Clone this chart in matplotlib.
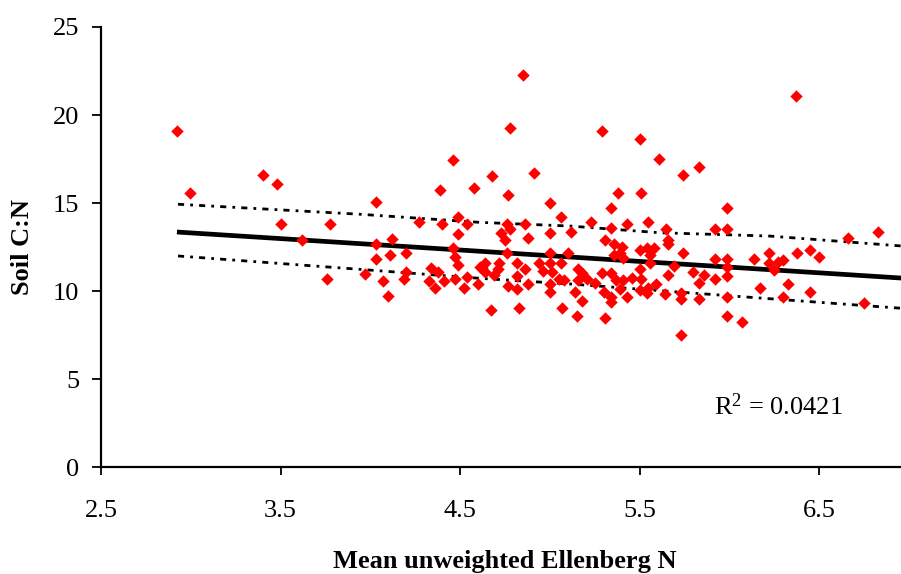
import matplotlib
matplotlib.use("Agg")
import matplotlib.pyplot as plt
import numpy as np

plt.rcParams['font.family'] = ['Liberation Serif', 'DejaVu Serif']
plt.rcParams['mathtext.fontset'] = 'custom'
plt.rcParams['mathtext.rm'] = 'Liberation Serif'
plt.rcParams['mathtext.it'] = 'Liberation Serif:italic'
plt.rcParams['mathtext.bf'] = 'Liberation Serif:bold'
plt.rcParams['mathtext.default'] = 'regular'

# ---- data ----
ellenberg_n = [
    2.923, 2.996, 3.40, 3.48, 3.50, 3.776, 3.62, 3.76, 4.03, 4.12,
    4.11, 4.03, 4.03, 3.97, 4.07, 4.10, 4.20, 4.20, 4.19, 4.27,
    4.34, 4.33, 4.36, 4.38, 4.41, 4.39, 4.40, 4.46, 4.49, 4.49,
    4.46, 4.47, 4.49, 4.47, 4.52, 4.54, 4.54, 4.58, 4.60, 4.61,
    4.85, 4.78, 4.68, 4.91, 4.77, 5.00, 5.06, 4.76, 4.78, 4.73,
    4.75, 4.86, 4.88, 5.00, 4.76, 5.00, 5.10, 4.64, 4.62, 4.64,
    4.72, 4.71, 4.69, 4.82, 4.86, 4.82, 4.77, 4.82, 4.88, 4.94,
    4.96, 5.00, 5.01, 5.06, 5.05, 5.08, 5.00, 5.00, 4.67, 4.83,
    5.07, 5.29, 5.50, 5.61, 5.38, 5.51, 5.34, 5.23, 5.12, 5.34,
    5.43, 5.55, 5.31, 5.36, 5.40, 5.39, 5.41, 5.36, 5.50, 5.54,
    5.56, 5.58, 5.16, 5.18, 5.21, 5.16, 5.14, 5.29, 5.34, 5.25,
    5.30, 5.34, 5.34, 5.37, 5.41, 5.39, 5.43, 5.46, 5.50, 5.51,
    5.50, 5.54, 5.55, 5.59, 5.56, 5.15, 5.31, 5.18, 5.74, 5.83,
    5.65, 5.66, 5.66, 5.74, 5.69, 5.80, 5.86, 5.66, 5.64, 5.73,
    5.73, 5.83, 5.83, 5.92, 5.92, 5.92, 5.99, 5.99, 5.99, 5.99,
    5.99, 5.99, 5.99, 6.07, 5.73, 6.14, 6.17, 6.22, 6.22, 6.37,
    6.27, 6.30, 6.25, 6.38, 6.45, 6.50, 6.33, 6.30, 6.45, 6.66,
    6.83, 6.75,
]
soil_cn = [
    19.09, 15.57, 16.6, 16.1, 13.8, 13.8, 12.9, 10.7, 15.05, 12.95,
    12.05, 12.67, 11.8, 10.97, 10.57, 9.72, 12.16, 11.1, 10.7, 13.9,
    11.3, 10.57, 10.17, 11.08, 10.57, 15.74, 13.8, 17.44, 14.2, 13.24,
    12.44, 11.93, 11.48, 10.68, 10.17, 13.8, 10.8, 15.85, 10.4, 11.36,
    22.27, 19.26, 16.53, 16.7, 15.45, 15.0, 14.2, 13.8, 13.5, 13.3,
    12.9, 13.8, 13.0, 13.3, 12.16, 12.16, 12.16, 11.6, 11.3, 11.08,
    11.6, 11.25, 10.9, 11.6, 11.25, 10.85, 10.28, 10.1, 10.4, 11.6,
    11.14, 11.6, 11.08, 11.6, 10.68, 10.6, 10.4, 9.94, 8.92, 9.03,
    9.03, 19.09, 18.64, 17.5, 15.57, 15.57, 14.7, 13.9, 13.35, 13.58,
    13.8, 13.9, 12.9, 12.67, 12.5, 12.16, 11.88, 12.05, 12.33, 12.44,
    12.05, 12.44, 11.25, 11.0, 10.7, 10.6, 9.94, 11.0, 11.0, 10.45,
    9.94, 9.66, 9.38, 10.6, 10.6, 10.1, 9.66, 10.74, 11.25, 10.68,
    10.06, 9.88, 10.17, 10.4, 11.6, 8.58, 8.47, 9.43, 16.6, 17.05,
    13.5, 12.9, 12.67, 12.16, 11.4, 11.08, 10.9, 10.9, 9.83, 9.88,
    9.55, 10.45, 9.55, 13.5, 11.8, 10.68, 14.7, 13.5, 11.8, 11.36,
    10.85, 9.66, 8.58, 8.24, 7.5, 11.8, 10.17, 12.16, 11.6, 21.1,
    11.65, 11.76, 11.2, 12.16, 12.33, 11.93, 10.4, 9.66, 9.94, 13.0,
    13.35, 9.3,
]

# trend line: y = intercept + slope * x
trend_intercept = 15.245
trend_slope = -0.648
r_squared_label = "0.0421"

# confidence band lines
band_x = [2.929, 3.943, 4.611, 5.113, 5.614, 6.227, 6.957]
band_upper = [14.93, 14.36, 13.90, 13.69, 13.31, 13.12, 12.56]
band_lower = [11.99, 11.23, 10.72, 10.40, 10.02, 9.56, 9.02]

x_ticks = [2.5, 3.5, 4.5, 5.5, 6.5]
y_ticks = [0, 5, 10, 15, 20, 25]

# ---- figure ----
W, H = 901, 574
fig = plt.figure(figsize=(W / 100, H / 100), dpi=100)
left_px, right_px, top_px, bottom_px = 101, 908.75, 27, 467
ax = fig.add_axes([left_px / W, 1 - bottom_px / H,
                   (right_px - left_px) / W, (bottom_px - top_px) / H])

ax.set_xlim(2.5, 7.0)
ax.set_ylim(0, 25)

# trend line
tx = np.array([min(ellenberg_n), 7.0])
ax.plot(tx, trend_intercept + trend_slope * tx, color='black', lw=3.4,
        solid_capstyle='butt', zorder=3)

# band lines
for band in (band_upper, band_lower):
    ax.plot(band_x, band, color='black', lw=2.0,
            linestyle=(0, (2.2, 2.2, 1.0, 2.2)), zorder=3)

# points
ax.scatter(ellenberg_n, soil_cn, marker='D', s=40, color='#FF0000',
           linewidths=0, zorder=4)

# R^2 annotation
ax.text(5.915, 2.95, r'R$^{2}$ = ' + r_squared_label, fontsize=19,
        ha='left', va='baseline')

# axes styling
for side in ('top', 'right'):
    ax.spines[side].set_visible(False)
for side in ('left', 'bottom'):
    ax.spines[side].set_linewidth(1.6)
ax.set_xticks(x_ticks)
ax.set_yticks(y_ticks)
ax.set_xticklabels([f'{v:.1f}' for v in x_ticks])
ax.set_yticklabels([str(v) for v in y_ticks])
ax.tick_params(axis='x', direction='out', length=6, width=1.3, pad=18,
               labelsize=19)
ax.tick_params(axis='y', direction='out', length=6.5, width=1.3, pad=9,
               labelsize=19)

ax.set_xlabel('Mean unweighted Ellenberg N', fontsize=19, fontweight='bold')
ax.xaxis.label.set_va('baseline')
ax.xaxis.set_label_coords(0.5, (bottom_px - 568) / (bottom_px - top_px))
ax.set_ylabel('Soil C:N', fontsize=19, fontweight='bold')
ax.yaxis.label.set_va('center')
ax.yaxis.set_label_coords((23 - left_px) / (right_px - left_px), 0.5)

fig.savefig('out.png', dpi=100)
